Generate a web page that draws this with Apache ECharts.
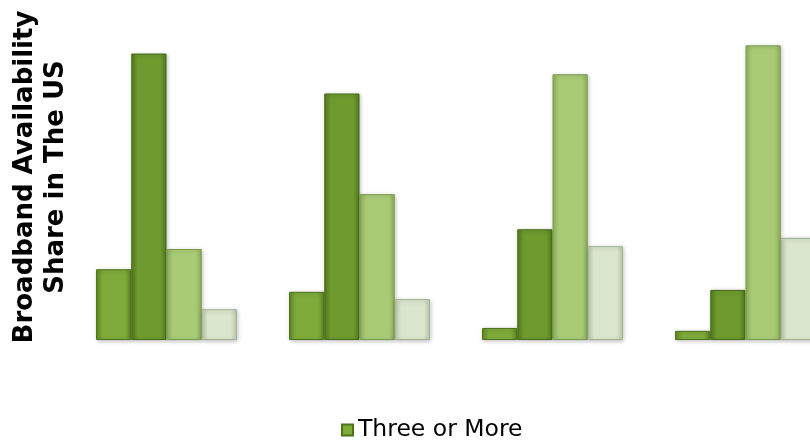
<!DOCTYPE html>
<html>
<head>
<meta charset="utf-8">
<script src="https://cdn.jsdelivr.net/npm/echarts@6/dist/echarts.min.js"></script>
<style>
html,body{margin:0;padding:0;background:#fff;overflow:hidden;width:810px;height:441px;}
#c{width:842px;height:441px;}
</style>
</head>
<body>
<div id="c"></div>
<script>
const categories = ['Group 1', 'Group 2', 'Group 3', 'Group 4'];
const seriesNames = ['Three or More', 'Series 2', 'Series 3', 'Series 4'];
const series1 = [14.7, 10.0, 2.5, 1.9];
const series2 = [59.5, 51.2, 23.0, 10.4];
const series3 = [18.9, 30.3, 55.2, 61.2];
const series4 = [6.4, 8.5, 19.5, 21.2];
const legendNames = ['Three or More'];
const yTitle = 'Broadband Availability\nShare in The US';

const baseColors = [
  ['#5f8a22', '#7eaa3a', '#5f8a22'],
  ['#557d1e', '#6e9a2e', '#557d1e'],
  ['#8fb25a', '#aacb76', '#8fb25a'],
  ['#bccbaa', '#dbe6cf', '#bccbaa']
];
const borders = ['#4e7219', '#466a16', '#7a9a50', '#a3b392'];

function grad(c) {
  return new echarts.graphic.LinearGradient(0, 0, 1, 0, [
    {offset: 0, color: c[0]},
    {offset: 0.18, color: c[1]},
    {offset: 0.82, color: c[1]},
    {offset: 1, color: c[2]}
  ]);
}

const dataSets = [series1, series2, series3, series4];
const chart = echarts.init(document.getElementById('c'));
chart.setOption({
  animation: false,
  grid: {left: 70, right: 0, top: 3, bottom: 101, containLabel: false},
  legend: {
    data: legendNames,
    left: 336, top: 413,
    itemWidth: 11, itemHeight: 11,
    icon: 'rect',
    textStyle: {fontFamily: 'DejaVu Sans', fontSize: 23.5, color: '#000'}
  },
  xAxis: {
    type: 'category', data: categories,
    axisLine: {show: false}, axisTick: {show: false}, axisLabel: {show: false}
  },
  yAxis: {
    type: 'value', min: 0, max: 70,
    axisLine: {show: false}, axisTick: {show: false}, axisLabel: {show: false},
    splitLine: {show: false}
  },
  graphic: [{
    type: 'text',
    x: 41, y: 177,
    rotation: Math.PI / 2,
    style: {
      text: yTitle,
      font: 'bold 26px "DejaVu Sans"',
      fill: '#000',
      align: 'center',
      verticalAlign: 'middle',
      lineHeight: 31
    }
  }],
  series: dataSets.map((d, i) => ({
    name: seriesNames[i],
    type: 'bar',
    data: d,
    barGap: '0%',
    barCategoryGap: '27%',
    itemStyle: {
      color: grad(baseColors[i]),
      borderColor: borders[i],
      borderWidth: 1,
      shadowColor: 'rgba(0,0,0,0.25)',
      shadowBlur: 4,
      shadowOffsetX: 1,
      shadowOffsetY: 1
    }
  }))
});
</script>
</body>
</html>
